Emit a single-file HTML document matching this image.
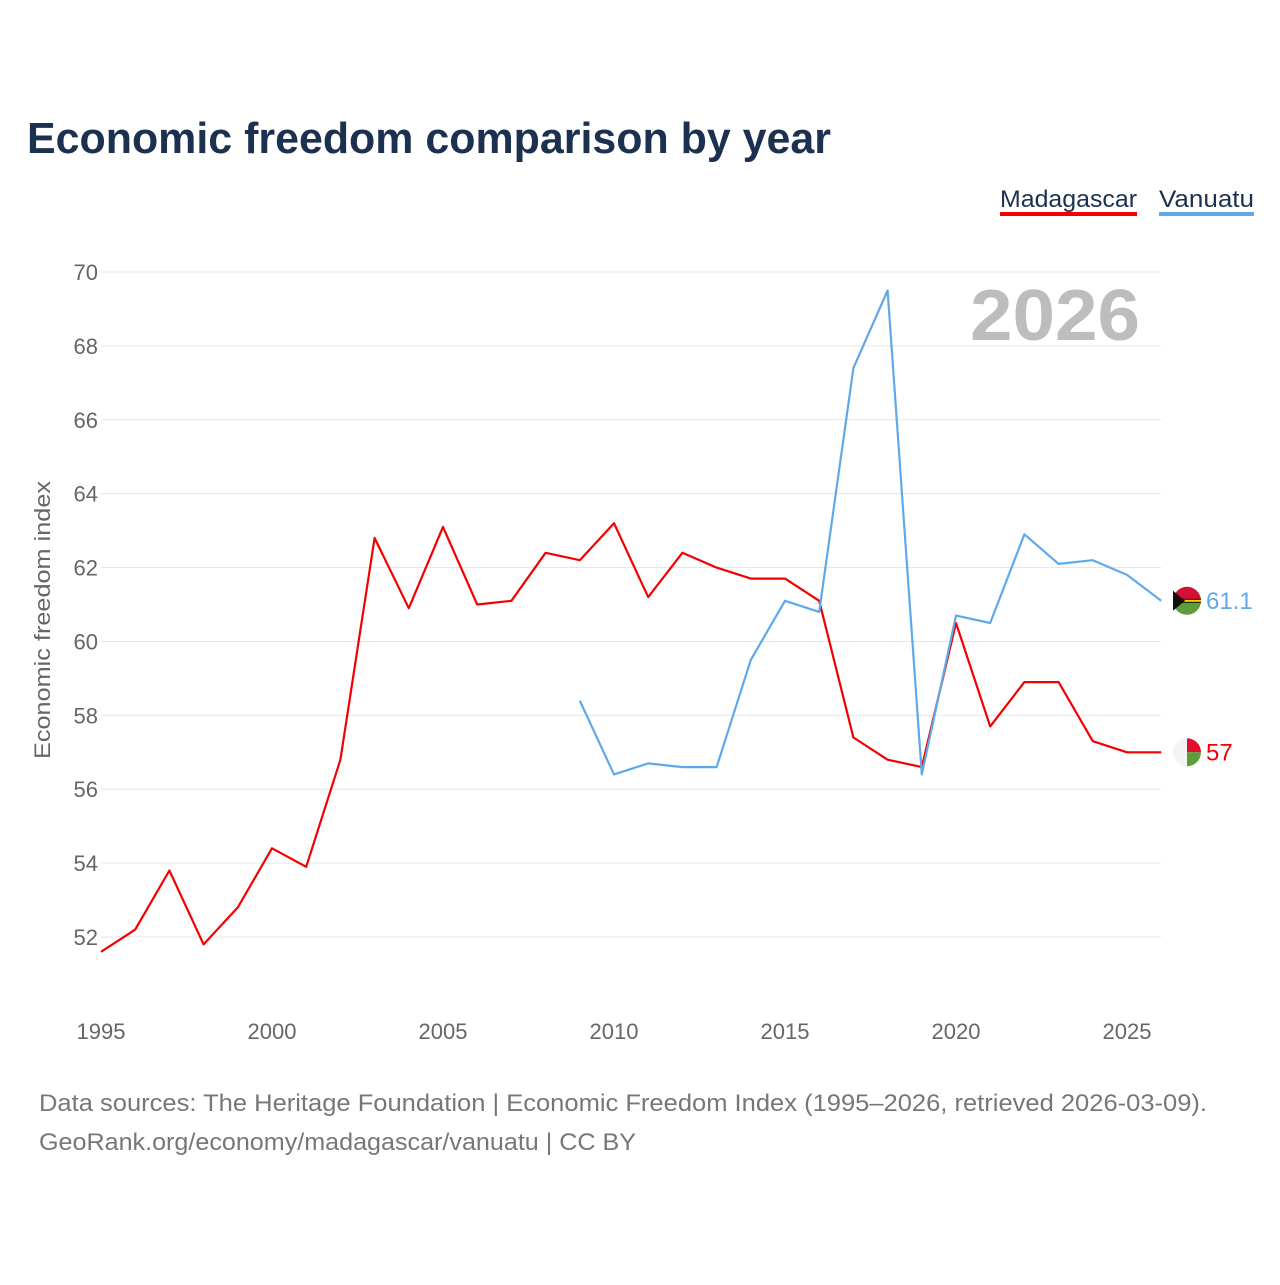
<!DOCTYPE html>
<html><head><meta charset="utf-8">
<style>
html,body{margin:0;padding:0;background:#fff;}
body{width:1280px;height:1280px;position:relative;font-family:"Liberation Sans",sans-serif;overflow:hidden;}
svg text{font-family:"Liberation Sans",sans-serif;}
</style></head>
<body>
<svg id="chart" width="1280" height="1280" xmlns="http://www.w3.org/2000/svg">
<text x="27" y="153" font-size="44" font-weight="bold" fill="#1c3150" textLength="804" lengthAdjust="spacingAndGlyphs">Economic freedom comparison by year</text>
<g>
<text x="1000" y="207" font-size="24" fill="#1c3150" textLength="137" lengthAdjust="spacingAndGlyphs">Madagascar</text>
<rect x="1000" y="212" width="137" height="4" fill="#f40000"/>
<text x="1159" y="207" font-size="24" fill="#1c3150" textLength="95" lengthAdjust="spacingAndGlyphs">Vanuatu</text>
<rect x="1159" y="212" width="95" height="4" fill="#5ea9ea"/>
</g>
<text x="1140" y="340" font-size="72" font-weight="bold" fill="#bdbdbd" text-anchor="end" textLength="170" lengthAdjust="spacingAndGlyphs">2026</text>
<text transform="translate(50,620) rotate(-90)" font-size="22" fill="#666" text-anchor="middle" textLength="278" lengthAdjust="spacingAndGlyphs">Economic freedom index</text>
<g id="grid"></g><g id="lines"></g><g id="labels"></g>
<text x="39" y="1111" font-size="24" fill="#777" textLength="1168" lengthAdjust="spacingAndGlyphs">Data sources: The Heritage Foundation | Economic Freedom Index (1995–2026, retrieved 2026-03-09).</text>
<text x="39" y="1150" font-size="24" fill="#777" textLength="597" lengthAdjust="spacingAndGlyphs">GeoRank.org/economy/madagascar/vanuatu | CC BY</text>
</svg>
<script>
const years=[1995,1996,1997,1998,1999,2000,2001,2002,2003,2004,2005,2006,2007,2008,2009,2010,2011,2012,2013,2014,2015,2016,2017,2018,2019,2020,2021,2022,2023,2024,2025,2026];
const madagascar=[51.6,52.2,53.8,51.8,52.8,54.4,53.9,56.8,62.8,60.9,63.1,61.0,61.1,62.4,62.2,63.2,61.2,62.4,62.0,61.7,61.7,61.1,57.4,56.8,56.6,60.5,57.7,58.9,58.9,57.3,57.0,57.0];
const vanuatu=[null,null,null,null,null,null,null,null,null,null,null,null,null,null,58.4,56.4,56.7,56.6,56.6,59.5,61.1,60.8,67.4,69.5,56.4,60.7,60.5,62.9,62.1,62.2,61.8,61.1];
const yTicks=[52,54,56,58,60,62,64,66,68,70];
const xTicks=[1995,2000,2005,2010,2015,2020,2025];
const NS="http://www.w3.org/2000/svg";
const x=v=>101+(v-1995)*(1127-101)/30;
const y=v=>272+(70-v)*(937-272)/18;
function mk(t,a,p){const e=document.createElementNS(NS,t);for(const k in a)e.setAttribute(k,a[k]);p.appendChild(e);return e;}
const grid=document.getElementById('grid'),lines=document.getElementById('lines'),labels=document.getElementById('labels');
yTicks.forEach(t=>{
 const l=mk('line',{x1:101,x2:1161,y1:y(t),y2:y(t),stroke:'#e6e6e6','stroke-width':1},grid);
 
 
 const tx=mk('text',{x:98,y:y(t)+8,'font-size':22,fill:'#666','text-anchor':'end'},grid);tx.textContent=t;
 
 
});
xTicks.forEach(t=>{
 const tx=mk('text',{x:x(t),y:1039,'font-size':22,fill:'#666','text-anchor':'middle'},grid);tx.textContent=t;
 
 
});
function path(vals,color,name){
 let d='';vals.forEach((v,i)=>{if(v==null)return;d+=(d?'L':'M')+x(years[i]).toFixed(1)+','+y(v).toFixed(1);});
 const p=mk('path',{d:d,fill:'none',stroke:color,'stroke-width':2.2,'stroke-linejoin':'round'},lines);
 
 
}
path(madagascar,'#f40000','madagascar-line');
path(vanuatu,'#5ea9ea','vanuatu-line');
function endLabel(vals,color,name,flag){
 const v=vals[vals.length-1];const cy=y(v),cx=1187;
 const g=mk('g',{},labels);
 
 
 if(flag==='mg'){
  mk('path',{d:`M${cx-14},${cy} A14,14 0 0 1 ${cx},${cy-14} L${cx},${cy+14} A14,14 0 0 1 ${cx-14},${cy}Z`,fill:'#f4f4f4'},g);
  mk('path',{d:`M${cx},${cy-14} A14,14 0 0 1 ${cx+14},${cy} L${cx},${cy}Z`,fill:'#e0102f'},g);
  mk('path',{d:`M${cx},${cy} L${cx+14},${cy} A14,14 0 0 1 ${cx},${cy+14}Z`,fill:'#5d9e3a'},g);
 }else{
  mk('path',{d:`M${cx-14},${cy} A14,14 0 0 1 ${cx+14},${cy}Z`,fill:'#d21034'},g);
  mk('path',{d:`M${cx-14},${cy} A14,14 0 0 0 ${cx+14},${cy}Z`,fill:'#5d9e3a'},g);
  mk('rect',{x:cx-14,y:cy-2,width:28,height:4,fill:'#111'},g);
  mk('rect',{x:cx-14,y:cy-1,width:28,height:2,fill:'#fdce12'},g);
  mk('path',{d:`M${cx-14},${cy-10} L${cx-2},${cy} L${cx-14},${cy+10}Z`,fill:'#111'},g);
 }
 const t=mk('text',{x:1206,y:cy+8,'font-size':24,fill:color},labels);t.textContent=v;
 
 
}
endLabel(madagascar,'#f40000','madagascar','mg');
endLabel(vanuatu,'#5ea9ea','vanuatu','vu');
</script>
</body></html>
